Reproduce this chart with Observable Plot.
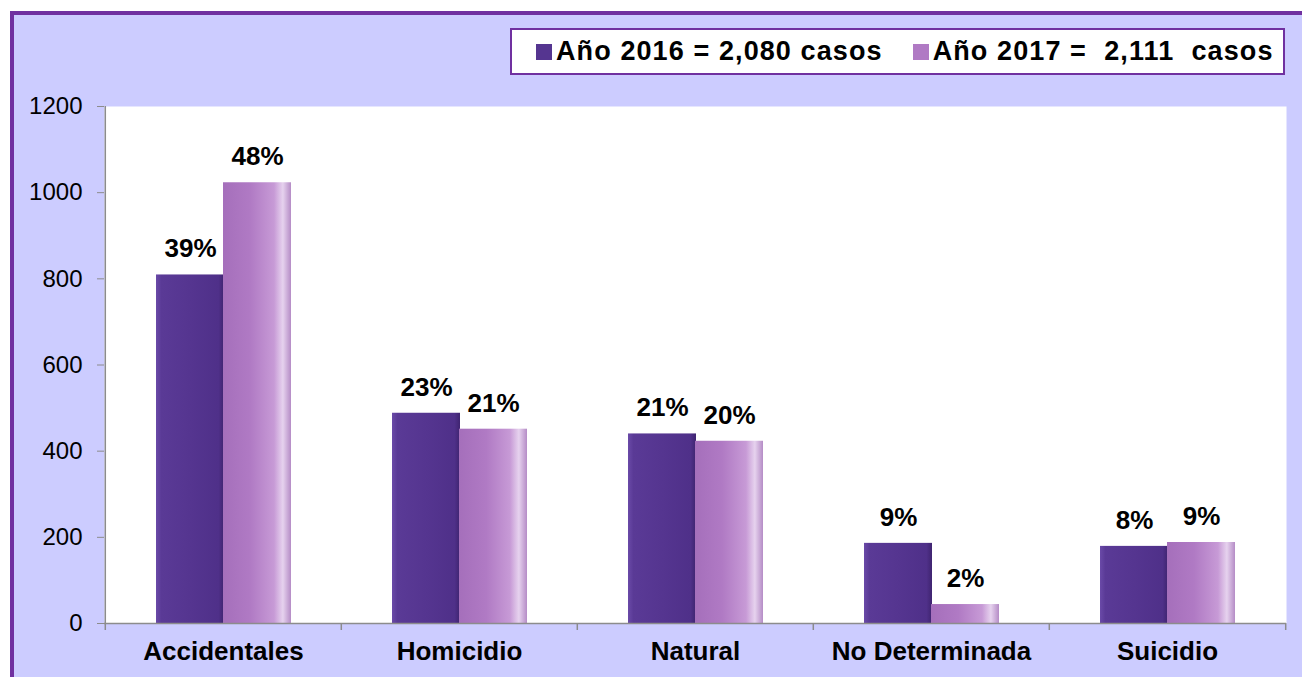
<!DOCTYPE html>
<html>
<head>
<meta charset="utf-8">
<script src="https://cdn.jsdelivr.net/npm/d3@7"></script>
<script src="https://cdn.jsdelivr.net/npm/@observablehq/plot@0.6"></script>
<style>
  html, body { margin: 0; padding: 0; background: white; }
  #wrap { position: relative; width: 1302px; height: 677px; overflow: hidden; font-family: "Liberation Sans", Arial, sans-serif; }
  #bg { position: absolute; left: 10px; top: 11px; width: 1400px; height: 800px; background: #CCCCFF; border-top: 4px solid #7030A0; border-left: 4px solid #7030A0; }
  #chart { position: absolute; left: 0; top: 0; }
  #legend { position: absolute; left: 510px; top: 28px; width: 771px; height: 43px; background: white; border: 2px solid #7030A0;
    display: flex; align-items: center; font-weight: bold; font-size: 27px; letter-spacing: 1.1px; color: #000; white-space: pre; }
  .sw { display: inline-block; width: 16px; height: 16px; margin-right: 4px; }
  .item { display: flex; align-items: center; }
</style>
</head>
<body>
<div id="wrap">
  <div id="bg"></div>
  <div id="chart"></div>
  <div id="legend"></div>
</div>
<script>
const categories = ["Accidentales", "Homicidio", "Natural", "No Determinada", "Suicidio"];
const values2016 = [809, 488, 440, 186, 179];
const values2017 = [1023, 451, 423, 44, 188];
const labels2016 = ["39%", "23%", "21%", "9%", "8%"];
const labels2017 = ["48%", "21%", "20%", "2%", "9%"];
const yTicks = [0, 200, 400, 600, 800, 1000, 1200];
const legendLabels = ["Año 2016 = 2,080 casos", "Año 2017 =  2,111  casos"];

const data2016 = categories.map((c, i) => ({category: c, value: values2016[i], label: labels2016[i]}));
const data2017 = categories.map((c, i) => ({category: c, value: values2017[i], label: labels2017[i]}));

const font = "Liberation Sans, Arial, sans-serif";
const halfBand = 118.2;

const plot = Plot.plot({
  width: 1302,
  height: 677,
  marginLeft: 104,
  marginRight: 16,
  marginTop: 106,
  marginBottom: 54,
  style: {background: "transparent", fontFamily: font, color: "#000"},
  x: {domain: categories, padding: 0, label: null},
  y: {domain: [0, 1200], label: null},
  marks: [
    Plot.frame({fill: "white", stroke: "none"}),
    Plot.barY(data2016, {x: "category", y: "value", fill: "url(#g16)", insetLeft: 51, insetRight: 117}),
    Plot.barY(data2017, {x: "category", y: "value", fill: "url(#g17)", insetLeft: 118, insetRight: 50}),
    Plot.text(data2016, {x: "category", y: "value", text: "label", dx: -33, dy: -26, fontSize: 26, fontWeight: "bold", fill: "#000"}),
    Plot.text(data2017, {x: "category", y: "value", text: "label", dx: 34, dy: -26, fontSize: 26, fontWeight: "bold", fill: "#000"}),
    Plot.ruleY([0], {stroke: "#8c8c8c", strokeWidth: 1.5}),
    Plot.ruleX([categories[0]], {dx: -halfBand, y1: 0, y2: 1200, stroke: "#8c8c8c", strokeWidth: 1.5}),
    Plot.ruleX(categories, {x: d => d, dx: -halfBand, y1: 0, y2: 0, insetBottom: -7, stroke: "#8c8c8c", strokeWidth: 1.5}),
    Plot.ruleX([categories[categories.length - 1]], {dx: halfBand, y1: 0, y2: 0, insetBottom: -7, stroke: "#8c8c8c", strokeWidth: 1.5}),
    Plot.axisY({ticks: yTicks, tickSize: 7, tickPadding: 15, fontSize: 24, stroke: "#8c8c8c", fill: "#000", tickFormat: d => String(d)}),
    Plot.axisX({tickSize: 0, tickPadding: 18, fontSize: 26, fontWeight: "bold", fill: "#000"})
  ]
});

// gradients for the glossy bars
const svg = d3.select(plot);
const defs = svg.insert("defs", ":first-child");
const g16 = defs.append("linearGradient").attr("id", "g16").attr("x1", 0).attr("x2", 1).attr("y1", 0).attr("y2", 0);
[[0, "#6a4aa8"], [0.08, "#5a3a96"], [0.5, "#553590"], [0.92, "#4f3089"], [1, "#3f2470"]].forEach(([o, c]) => g16.append("stop").attr("offset", o).attr("stop-color", c));
const g17 = defs.append("linearGradient").attr("id", "g17").attr("x1", 0).attr("x2", 1).attr("y1", 0).attr("y2", 0);
[[0, "#a56fbb"], [0.4, "#b07ac4"], [0.75, "#c79ad6"], [0.88, "#e6d2ee"], [1, "#b58cc6"]].forEach(([o, c]) => g17.append("stop").attr("offset", o).attr("stop-color", c));

document.getElementById("chart").appendChild(plot);

// legend
const legend = document.getElementById("legend");
const swatchColors = ["#553590", "#b07ac4"];
const margins = ["24px", "30px"];
legendLabels.forEach((t, i) => {
  const item = document.createElement("span");
  item.className = "item";
  item.style.marginLeft = margins[i];
  const sw = document.createElement("span");
  sw.className = "sw";
  sw.style.background = swatchColors[i];
  item.appendChild(sw);
  const tx = document.createElement("span");
  tx.textContent = t;
  item.appendChild(tx);
  legend.appendChild(item);
});
</script>
</body>
</html>
